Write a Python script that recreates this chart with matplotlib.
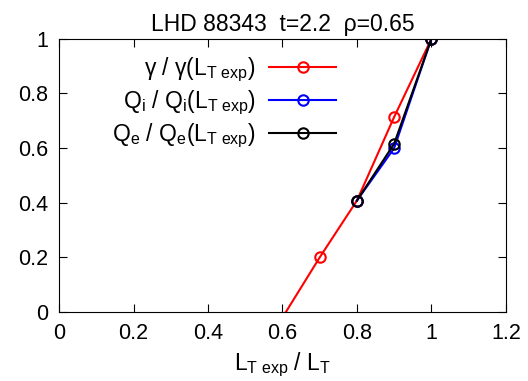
import matplotlib.pyplot as plt

plt.rcParams['font.family'] = ['Liberation Sans', 'DejaVu Sans']
plt.rcParams['mathtext.fontset'] = 'custom'
plt.rcParams['mathtext.rm'] = 'Liberation Sans'
plt.rcParams['mathtext.it'] = 'Liberation Sans'

# data
x_gamma = [0.6, 0.7, 0.8, 0.9, 1.0]
gamma = [-0.02, 0.2, 0.408, 0.714, 1.0]
x_q = [0.8, 0.9, 1.0]
qi = [0.408, 0.600, 1.0]
qe = [0.408, 0.616, 1.0]

fig = plt.figure(figsize=(5.28, 3.81), dpi=100)
ax = fig.add_axes([0.112, 0.181, 0.846, 0.717])

style = dict(marker='o', markerfacecolor='none', markersize=7.5, markeredgewidth=1.5, linewidth=1.5)
ax.plot(x_gamma, gamma, color='#ff0000', markevery=slice(1, None),
        label=r'$\gamma$ / $\gamma$(L$_{\mathrm{T\ exp}}$)', **style)
ax.plot(x_q, qi, color='#0000ff', label=r'Q$_{\mathrm{i}}$ / Q$_{\mathrm{i}}$(L$_{\mathrm{T\ exp}}$)', **style)
ax.plot(x_q, qe, color='black', label=r'Q$_{\mathrm{e}}$ / Q$_{\mathrm{e}}$(L$_{\mathrm{T\ exp}}$)', **style)

ax.set_xlim(0, 1.2)
ax.set_ylim(0, 1)
ax.set_xticks([0, 0.2, 0.4, 0.6, 0.8, 1.0, 1.2])
ax.set_xticklabels(['0', '0.2', '0.4', '0.6', '0.8', '1', '1.2'])
ax.set_yticks([0, 0.2, 0.4, 0.6, 0.8, 1.0])
ax.set_yticklabels(['0', '0.2', '0.4', '0.6', '0.8', '1'])
ax.tick_params(direction='in', length=6, width=0.8, top=True, right=True, labelsize=15.5, pad=8)
ax.set_xlabel(r'L$_{\mathrm{T\ exp}}$ / L$_{\mathrm{T}}$', fontsize=16.5, labelpad=5)
ax.set_title('LHD 88343  t=2.2  ρ=0.65', fontsize=16.5, pad=6)

ax.legend(loc='upper left', bbox_to_anchor=(0.072, 1.013), markerfirst=False, frameon=False,
          fontsize=16.5, handlelength=2.9, handletextpad=0.6, labelspacing=0.2)

plt.savefig('out.png', dpi=100)
